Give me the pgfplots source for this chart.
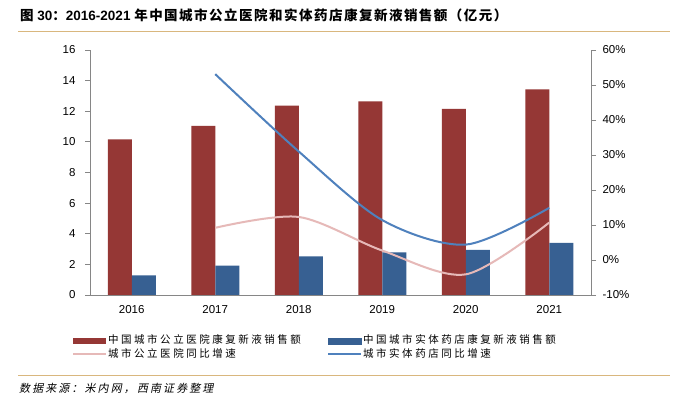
\documentclass[border=0pt]{standalone}
\usepackage{fontspec}
\setmainfont{Liberation Sans}
\newfontfamily\cjkt{Noto Sans CJK SC}[LetterSpace=11]
\newfontfamily\cjkl{Noto Sans CJK SC}[LetterSpace=24]
\newfontfamily\cjkf{Noto Sans CJK SC}[LetterSpace=19,FakeSlant=0.2]
\usepackage{pgfplots}
\pgfplotsset{compat=1.18}
\definecolor{barred}{HTML}{953735}
\definecolor{barblue}{HTML}{376092}
\definecolor{lineblue}{HTML}{4F81BD}
\definecolor{linepink}{HTML}{E6B9B8}
\definecolor{rulec}{HTML}{D9B77E}
\definecolor{axisgray}{HTML}{868686}
\pgfplotsset{
  common/.style={
    at={(90pt,103pt)}, anchor=south west, scale only axis,
    width=501pt, height=245pt, xmin=-0.5, xmax=5.5,
    axis line style={axisgray, line width=0.9pt, -},
    tick style={axisgray, line width=0.8pt}, major tick length=5pt, tick align=outside,
    ticklabel style={font=\fontsize{11.5}{13}\selectfont, text=black},
    /pgf/number format/assume math mode=true,
    clip=false,
  },
  leg/.style={
    legend style={draw=none, fill=none, inner sep=0pt, row sep=0.3pt,
      nodes={font=\fontsize{10.5}{12}\selectfont\cjkl, inner sep=1pt, text height=8.5pt, text depth=2.5pt},
      legend cell align=left},
  },
}
\begin{document}
\begin{tikzpicture}[x=1pt,y=1pt]
\path[use as bounding box] (0,0) rectangle (682,398);
\fill[white] (0,0) rectangle (682,398);
\node[anchor=west, inner sep=0pt, font=\fontsize{13.5}{16}\selectfont\bfseries] at (20,383)
  {{\cjkt 图} 30{\cjkt ：}2016-2021 {\cjkt 年中国城市公立医院和实体药店康复新液销售额（亿元）}};
\draw[rulec, line width=1.5pt] (18,366.5) -- (670,366.5);
\draw[rulec, line width=1.5pt] (18,22.3) -- (670,22.3);
\node[anchor=west, inner sep=0pt] at (19,10) {\fontsize{11}{13}\selectfont\cjkf 数据来源：米内网，西南证券整理};

\begin{axis}[common, leg,
  ymin=0, ymax=16, ytick={0,2,...,16},
  xtick={0,1,2,3,4,5}, xticklabels={2016,2017,2018,2019,2020,2021},
  axis x line*=bottom, axis y line*=left,
  x tick style={draw=none},
  yticklabel style={xshift=-6pt},
  xticklabel style={yshift=-2pt},
  legend style={at={(-0.036,-0.16)}, anchor=north west},
]
\addplot[ybar, bar width=24pt, bar shift=-12pt, fill=barred, draw=none,
  legend image code/.code={\fill[barred] (0pt,-3pt) rectangle (33pt,3pt);}]
  coordinates {(0,10.17) (1,11.04) (2,12.37) (3,12.65) (4,12.15) (5,13.43)};
\addlegendentry{中国城市公立医院康复新液销售额}
\addplot[ybar, bar width=24pt, bar shift=12pt, fill=barblue, draw=none, forget plot]
  coordinates {(0,1.28) (1,1.92) (2,2.53) (3,2.79) (4,2.94) (5,3.40)};
\addlegendimage{legend image code/.code={\draw[linepink, line width=2pt] (0pt,0pt) -- (33pt,0pt);}}
\addlegendentry{城市公立医院同比增速}
\end{axis}

\begin{axis}[common, leg,
  ymin=-10, ymax=60, ytick={-10,0,10,20,30,40,50,60},
  axis y line*=right, axis x line=none,
  yticklabel={\pgfmathprintnumber{\tick}\%},
  yticklabel style={xshift=3pt},
  legend style={at={(0.473,-0.16)}, anchor=north west},
]
\addlegendimage{legend image code/.code={\fill[barblue] (0pt,-3pt) rectangle (33pt,3pt);}}
\addlegendentry{中国城市实体药店康复新液销售额}
\addplot[linepink, line width=2pt, smooth, tension=0.5, forget plot]
  coordinates {(1,9.2) (2,12.3) (3,2.7) (4,-4.1) (5,10.7)};
\addplot[lineblue, line width=2pt, smooth, tension=0.5,
  legend image code/.code={\draw[lineblue, line width=2pt] (0pt,0pt) -- (33pt,0pt);}]
  coordinates {(1,53.1) (2,31.0) (3,11.4) (4,4.4) (5,14.9)};
\addlegendentry{城市实体药店同比增速}
\end{axis}
\end{tikzpicture}
\end{document}
